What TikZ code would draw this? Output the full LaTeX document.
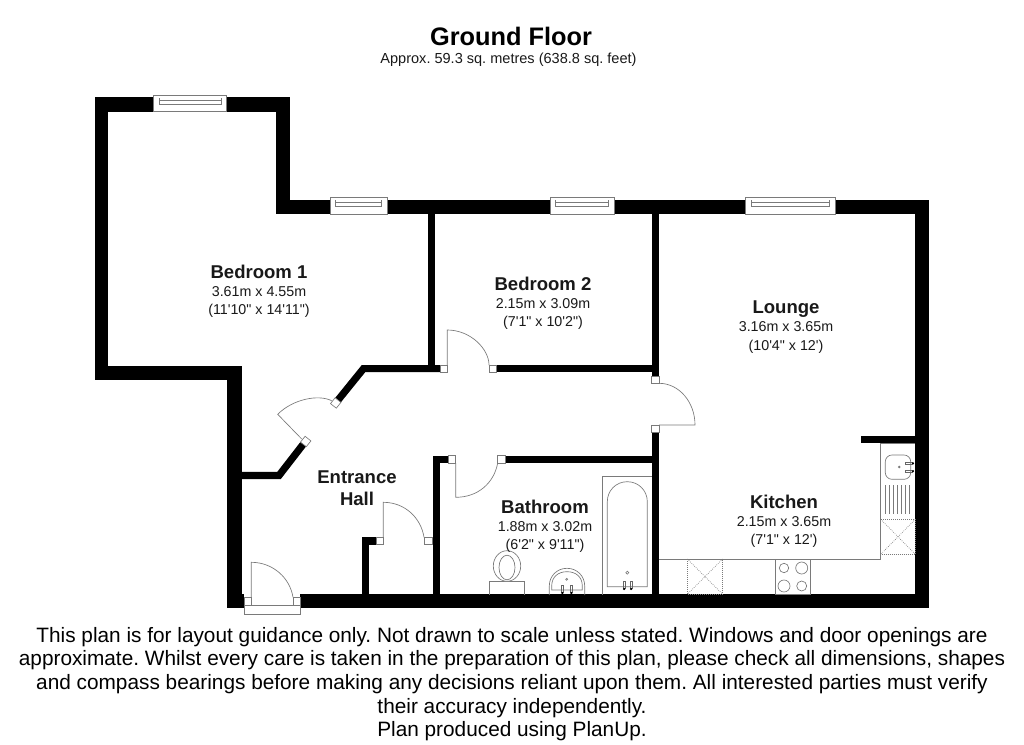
\documentclass[tikz,border=0pt]{standalone}
\usepackage{fontspec}
\setmainfont[Ligatures=TeXOff]{Liberation Sans}
\newcommand{\roomname}[1]{{\fontsize{13.9pt}{14.4pt}\selectfont\bfseries #1}}
\tikzset{
  thin line/.style={draw=black!52,line width=0.5pt},
  wall/.style={fill=black},
  wallstroke/.style={draw=black,line width=5.4pt,line join=miter},
  post/.style={draw=black!52,fill=white,line width=0.5pt},
  dots/.style={draw=black!52,line width=0.5pt,densely dotted},
  roomlabel/.style={font=\fontsize{10.7pt}{13.6pt}\selectfont\frenchspacing,align=center,inner sep=0pt,text=black!90},
  tap/.style={draw=black!60,line width=0.5pt},
  tapend/.style={fill=black}
}
\begin{document}
\begin{tikzpicture}[x=0.75pt,y=-0.75pt]
\useasboundingbox (0,0) rectangle (1024,745);
\fill[white] (0,0) rectangle (1024,745);

% --- outer walls
\fill[wall] (94.5,97.5) rectangle (289.7,111.7);
\fill[wall] (94.5,97.5) rectangle (108,380);
\fill[wall] (94.5,365.7) rectangle (242,380);
\fill[wall] (227.3,365.7) rectangle (242,608);
\fill[wall] (227.3,594.3) rectangle (244,608);
\fill[wall] (275.5,97.5) rectangle (289.7,214.3);
\fill[wall] (275.5,200) rectangle (929.3,214.3);
\fill[wall] (915.3,200) rectangle (929.3,608);
\fill[wall] (300.3,594.3) rectangle (929.3,608);

% --- inner walls
\fill[wall] (427.7,210) rectangle (435,372.3);
\fill[wall] (651.7,210) rectangle (659,376);
\fill[wall] (496,365) rectangle (655,372.3);
\fill[wall] (651.7,432.3) rectangle (659,596);
\fill[wall] (505,455.7) rectangle (655,462.7);
\fill[wall] (432.7,455.7) rectangle (448.7,462.9);
\fill[wall] (432.7,455.7) rectangle (440,596);
\fill[wall] (362,537.3) rectangle (376,544.7);
\fill[wall] (362,537.3) rectangle (369.3,596);
\fill[wall] (860.7,436) rectangle (917,443.3);
\draw[wallstroke] (338,400.1) -- (363.5,368.6) -- (440,368.6);
\draw[wallstroke] (242,475.5) -- (279,475.5) -- (303.4,444);

% --- windows
\foreach \xa/\xb/\yt in {153.3/226.7/95.3}{
  \fill[white] (\xa,\yt) rectangle (\xb,111.7);
  \draw[thin line] (\xa,\yt) rectangle (\xb,111.7);
  \draw[thin line] (\xa+6,\yt+4.7) rectangle (\xb-5,\yt+8.7);
  \draw[thin line] (\xa+6,\yt+3) -- (\xa+6,\yt+9.7) (\xb-5,\yt+3) -- (\xb-5,\yt+9.7);
}
\foreach \xa/\xb/\yt in {330/387.3/197.5,550.3/614/197.5,745.7/835.3/197.5}{
  \fill[white] (\xa,\yt) rectangle (\xb,214.3);
  \draw[thin line] (\xa,\yt) rectangle (\xb,214.3);
  \draw[thin line] (\xa+5.5,\yt+4.7) rectangle (\xb-5.5,\yt+8.7);
  \draw[thin line] (\xa+5.5,\yt+3) -- (\xa+5.5,\yt+9.7) (\xb-5.5,\yt+3) -- (\xb-5.5,\yt+9.7);
}

% --- door posts
\draw[post] (440,365) rectangle (447.5,372.3);
\draw[post] (489,365) rectangle (496,372.3);
\draw[post] (651.7,376) rectangle (659,383.3);
\draw[post] (651.7,425) rectangle (659,432.3);
\draw[post] (448.7,455.7) rectangle (455.7,462.9);
\draw[post] (497.7,455.7) rectangle (505,462.9);
\draw[post] (376,537.3) rectangle (383.5,544.7);
\draw[post] (424.7,537.3) rectangle (432.3,544.7);
\draw[post] (340.9,402.4) -- (335.1,397.8) -- (330.5,403.6) -- (336.3,408.2) -- cycle;
\draw[post] (310.9,440.9) -- (305.1,436.3) -- (300.5,442.1) -- (306.3,446.7) -- cycle;
\draw[post] (244,597.3) rectangle (251.3,605);
\draw[post] (293.3,597.3) rectangle (300.3,605);
\draw[post] (244,605) rectangle (300.3,614.3);

% --- door leaves
\draw[thin line] (447.3,365) -- (447.3,330) .. controls (470.5,330) and (489,349) .. (489,365);
\draw[thin line] (659,383.3) .. controls (679,383.3) and (695,402) .. (695,425) -- (659,425);
\draw[thin line] (455.7,463) -- (455.7,497.3) .. controls (478,497.3) and (494,483) .. (497.7,463);
\draw[thin line] (383.3,537.3) -- (383.3,502.3) .. controls (405,502.3) and (421,518) .. (424,537.3);
\draw[thin line] (251.3,597.3) -- (251.3,562.3) .. controls (273,562.3) and (290,578) .. (293,597.3);
\draw[thin line] (301.7,439) -- (277.7,414.3) .. controls (292.7,399.3) and (318,394) .. (331.7,400.7);

% --- bath
\draw[thin line] (652,476.3) -- (602.7,476.3) -- (602.7,595);
\draw[thin line] (607.3,586.7) -- (607.3,501.7) .. controls (607.3,490.5) and (616,481.7) .. (627.3,481.7)
   .. controls (638.5,481.7) and (647.3,490.5) .. (647.3,501.7) -- (647.3,586.7) -- cycle;
\draw[thin line] (627.3,572.7) circle (1.5);
\draw[tap] (623.3,581.7) rectangle (625,588);
\draw[tap] (630.3,581.7) rectangle (632,588);
\fill[tapend] (624.1,589) circle (1.2) (631.1,589) circle (1.2);

% --- toilet
\draw[thin line] (489.3,595) -- (489.3,581.3) -- (524.7,581.3) -- (524.7,595);
\fill[white] (507,566) ellipse (13.7 and 15.3);
\draw[thin line] (507,566) ellipse (13.7 and 15.3);
\draw[thin line] (507,567.5) ellipse (8 and 12.3);

% --- basin
\draw[thin line] (549.3,595) -- (549.3,586) .. controls (549.3,576) and (557,568.3) .. (567,568.3)
   .. controls (577,568.3) and (584.7,576) .. (584.7,586) -- (584.7,595);
\draw[thin line] (551.7,590) -- (551.7,586) .. controls (551.7,577) and (558,571.7) .. (567,571.7)
   .. controls (576,571.7) and (582.3,577) .. (582.3,586) -- (582.3,590) -- cycle;
\draw[thin line] (566.7,579.3) circle (1);
\draw[tap] (561.5,585.3) rectangle (563.2,592);
\draw[tap] (570.5,585.3) rectangle (572.2,592);
\fill[tapend] (562.3,593) circle (1.2) (571.3,593) circle (1.2);

% --- kitchen
\draw[thin line] (659,559) -- (880.7,559) -- (880.7,443.3);
\draw[thin line] (880.7,443.3) -- (915.3,443.3);
\draw[thin line] (775.3,559) rectangle (810.3,594.3);
\draw[thin line] (784,568) circle (4.7);
\draw[thin line] (801.7,568) circle (6);
\draw[thin line] (784,586) circle (6);
\draw[thin line] (801.7,586) circle (5);
\draw[dots] (687.3,559) rectangle (722.7,594.3);
\draw[dots] (687.3,559) -- (722.7,594.3) (722.7,559) -- (687.3,594.3);
\draw[dots] (880.7,519.3) rectangle (915.3,554.3);
\draw[dots] (880.7,519.3) -- (915.3,554.3) (915.3,519.3) -- (880.7,554.3);
\draw[thin line,rounded corners=5pt] (885.3,455) rectangle (910.7,479.3);
\foreach \x in {885.5,889.5,893.5,897.5,901.5,905.5,909.5}{
  \draw[thin line] (\x,485) -- (\x,514.3);
}
\draw[thin line] (899.3,467) circle (0.9);
\draw[tap] (905,462.5) rectangle (912,464);
\draw[tap] (905,470.5) rectangle (912,472);
\fill[tapend] (913,463.3) circle (1.2) (913,471.2) circle (1.2);

% --- labels
\node[inner sep=0pt,font=\fontsize{19pt}{20pt}\selectfont\bfseries] (title) at (511,36) {Ground Floor};
\node[inner sep=0pt,font=\fontsize{10.9pt}{12pt}\selectfont\frenchspacing,text=black!90] (subtitle) at (508.5,60) {Approx. 59.3 sq. metres (638.8 sq. feet)};

\node[roomlabel] (bed1) at (259,291) {\roomname{Bedroom 1}\\3.61m x 4.55m\\(11'10" x 14'11")};
\node[roomlabel] (bed2) at (543,303) {\roomname{Bedroom 2}\\2.15m x 3.09m\\(7'1" x 10'2")};
\node[roomlabel] (lounge) at (786,327) {\roomname{Lounge}\\3.16m x 3.65m\\(10'4" x 12')};
\node[roomlabel] (hall) at (357,488) {\roomname{Entrance}\\[3pt]\roomname{Hall}};
\node[roomlabel] (bath) at (545,526) {\roomname{Bathroom}\\1.88m x 3.02m\\(6'2" x 9'11")};
\node[roomlabel] (kitchen) at (784,521) {\roomname{Kitchen}\\2.15m x 3.65m\\(7'1" x 12')};

\node[inner sep=0pt,align=center,font=\fontsize{15.6pt}{17.75pt}\selectfont\frenchspacing] (note) at (512,684)
{This plan is for layout guidance only. Not drawn to scale unless stated. Windows and door openings are\\
approximate. Whilst every care is taken in the preparation of this plan, please check all dimensions, shapes\\
and compass bearings before making any decisions reliant upon them. All interested parties must verify\\
their accuracy independently.\\
Plan produced using PlanUp.};
\end{tikzpicture}
\end{document}
